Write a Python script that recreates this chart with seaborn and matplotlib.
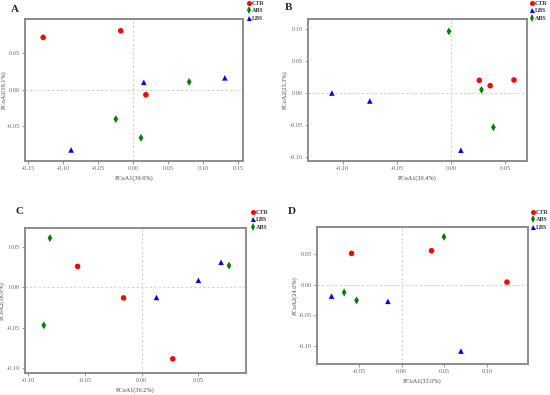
import matplotlib
matplotlib.use("Agg")
import matplotlib.pyplot as plt
import seaborn as sns
import pandas as pd

# ---- data (PCoA scores) ----
groups = ["CTR", "CTR", "CTR", "ABS", "ABS", "ABS", "LBS", "LBS", "LBS"]

a_x = [-0.129, -0.018, 0.018, 0.080, -0.025, 0.011, 0.015, 0.131, -0.089]
a_y = [0.071, 0.080, -0.007, 0.0105, -0.040, -0.0655, 0.010, 0.016, -0.082]

b_x = [0.026, 0.036, 0.058, -0.002, 0.028, 0.039, -0.110, -0.075, 0.009]
b_y = [0.020, 0.0115, 0.0205, 0.097, 0.005, -0.054, 0.000, -0.0126, -0.090]

c_x = [-0.0566, -0.016, 0.0274, -0.081, -0.0864, 0.077, 0.013, 0.050, 0.070]
c_y = [0.026, -0.013, -0.0885, 0.061, -0.047, 0.027, -0.0125, 0.0087, 0.031]

d_x = [-0.0586, 0.035, 0.1234, 0.0496, -0.0672, -0.0527, -0.082, -0.016, 0.0695]
d_y = [0.051, 0.0554, 0.0043, 0.078, -0.0125, -0.0255, -0.0185, -0.027, -0.108]

pc1_labels = ["PCoA1(39.6%)", "PCoA1(30.4%)", "PCoA1(36.2%)", "PCoA1(33.0%)"]
pc2_labels = ["PCoA2(19.1%)", "PCoA2(23.3%)", "PCoA2(18.9%)", "PCoA2(24.0%)"]
panel_letters = ["A", "B", "C", "D"]
legend_orders = [["CTR", "ABS", "LBS"], ["CTR", "LBS", "ABS"],
                 ["CTR", "LBS", "ABS"], ["CTR", "ABS", "LBS"]]
x_ticks = [[-0.15, -0.10, -0.05, 0.00, 0.05, 0.10, 0.15],
           [-0.10, -0.05, 0.00, 0.05],
           [-0.10, -0.05, 0.00, 0.05],
           [-0.05, 0.00, 0.05, 0.10]]
y_ticks = [[-0.05, 0.00, 0.05],
           [-0.10, -0.05, 0.00, 0.05, 0.10],
           [-0.10, -0.05, 0.00, 0.05],
           [-0.10, -0.05, 0.00, 0.05]]
x_lims = [(-0.155, 0.157), (-0.132, 0.070), (-0.103, 0.092), (-0.099, 0.148)]
y_lims = [(-0.097, 0.096), (-0.107, 0.1165), (-0.106, 0.0735), (-0.129, 0.094)]

palette = {"CTR": "#ff0000", "ABS": "#008000", "LBS": "#0000ff"}
markers = {"CTR": "o", "ABS": "d", "LBS": "^"}

sns.set_style("white")
plt.rcParams["font.family"] = ["Liberation Serif", "DejaVu Serif"]

W, H = 550, 395
fig = plt.figure(figsize=(5.5, 3.95), dpi=100)

# axes boxes in pixels: left, top, right, bottom
boxes = [(25, 19, 243, 161), (308, 19, 527, 161),
         (25, 228, 246, 373), (317, 227, 528, 364)]
letter_pos = [(11, 9), (285, 7), (15, 212), (288, 212)]
legend_pos = [(247, 1), (530, 1), (251, 210), (531, 210)]
ylabel_x = [-0.083, -0.091, -0.09, -0.091]

panels = [(a_x, a_y), (b_x, b_y), (c_x, c_y), (d_x, d_y)]

for i, (xs, ys) in enumerate(panels):
    l, t, r, b = boxes[i]
    ax = fig.add_axes([l / W, 1 - b / H, (r - l) / W, (b - t) / H])
    df = pd.DataFrame({"x": xs, "y": ys, "group": groups})
    ax.axhline(0, color="#d0d0d0", ls=(0, (2, 2)), lw=0.8, zorder=0)
    ax.axvline(0, color="#d0d0d0", ls=(0, (2, 2)), lw=0.8, zorder=0)
    sns.scatterplot(data=df, x="x", y="y", hue="group", style="group",
                    hue_order=legend_orders[i], style_order=legend_orders[i],
                    palette=palette, markers=markers, s=16, linewidth=0,
                    ax=ax)
    ax.set_xlim(*x_lims[i])
    ax.set_ylim(*y_lims[i])
    ax.set_xticks(x_ticks[i])
    ax.set_yticks(y_ticks[i])
    ax.set_xticklabels([f"{v:.2f}" for v in x_ticks[i]])
    ax.set_yticklabels([f"{v:.2f}" for v in y_ticks[i]])
    ax.tick_params(axis="both", labelsize=4.5, colors="#666666", length=2,
                   width=0.5, pad=1.5, direction="out", bottom=True, left=True)
    for sp in ax.spines.values():
        sp.set_color("#8c8c8c")
        sp.set_linewidth(1.4)
    ax.set_xlabel(pc1_labels[i], fontsize=4.5, color="#444444", labelpad=3)
    ax.set_ylabel(pc2_labels[i], fontsize=4.5, color="#444444")
    ax.yaxis.set_label_coords(ylabel_x[i], 0.5)
    fig.text(letter_pos[i][0] / W, 1 - letter_pos[i][1] / H, panel_letters[i],
             fontsize=8, fontweight="bold", ha="left", va="center")
    lx, ly = legend_pos[i]
    sns.move_legend(ax, loc="upper left", bbox_to_anchor=(lx / W, 1 - ly / H),
                    bbox_transform=fig.transFigure, title=None, frameon=False,
                    fontsize=4.3, handletextpad=0.05, labelspacing=0.35,
                    borderpad=0, borderaxespad=0, handlelength=0.8,
                    markerscale=0.9)
    for txt in ax.get_legend().get_texts():
        txt.set_fontweight("bold")
        txt.set_color("#333333")

fig.savefig("out.png", dpi=100)
